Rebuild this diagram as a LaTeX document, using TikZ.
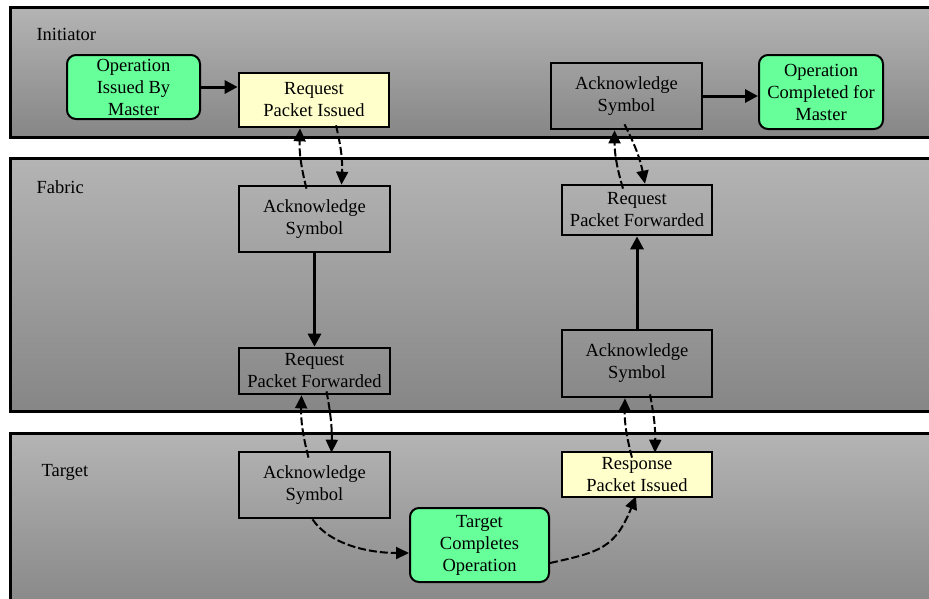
\documentclass[tikz,border=0pt]{standalone}
\usepackage{fontspec}
\setmainfont{Liberation Serif}
\usetikzlibrary{arrows.meta}
\definecolor{laneTop}{HTML}{B4B4B4}
\definecolor{laneBot}{HTML}{868686}
\definecolor{opgreen}{HTML}{66FF99}
\definecolor{pktyellow}{HTML}{FFFFCC}
\begin{document}
\begin{tikzpicture}[x=1pt,y=-1pt,
  lane/.style={draw=black,line width=3pt,top color=laneTop,bottom color=laneBot},
  lanelabel/.style={anchor=base west,font=\fontsize{18.5}{22}\selectfont,text=black},
  box/.style={draw=black,line width=2.7pt,align=center,inner sep=1pt,
    font=\fontsize{18.5}{22}\selectfont,text=black},
  plain/.style={box},
  packet/.style={box,fill=pktyellow},
  opbox/.style={box,fill=opgreen,rounded corners=9pt,line width=2pt},
  flow/.style={line width=3pt,-{Triangle[length=13pt,width=13pt]}},
  link/.style={line width=2pt,dashed,dash pattern=on 8pt off 3pt,-{Triangle[length=13pt,width=12pt]}}]
\useasboundingbox (0,0) rectangle (929,598);
\clip (0,0) rectangle (929,598);
\fill[white] (0,0) rectangle (929,598);

% swim lanes
\path[lane] (10,7) rectangle (945,137);
\path[lane] (10,158) rectangle (945,411);
\path[lane] (10,433) rectangle (945,615);
\node[lanelabel] (lInit) at (33,40) {Initiator};
\node[lanelabel] (lFab) at (33,193) {Fabric};
\node[lanelabel] (lTgt) at (38,476) {Target};

% initiator
\node[opbox,minimum width=133pt,minimum height=64pt] (opiss) at (133.5,87) {Operation\\Issued By\\Master};
\node[packet,minimum width=150pt,minimum height=54pt] (rpi) at (314,100) {Request\\Packet Issued};
\node[plain,minimum width=151pt,minimum height=66pt] (ackI) at (626.5,96) {Acknowledge\\Symbol};
\node[opbox,minimum width=124pt,minimum height=74pt] (opc) at (821,92) {Operation\\Completed for\\Master};

% fabric
\node[plain,minimum width=151pt,minimum height=66pt] (ackF1) at (314.5,219) {Acknowledge\\Symbol};
\node[plain,minimum width=151pt,minimum height=46pt] (rpfF1) at (314.5,371) {Request\\Packet Forwarded};
\node[plain,minimum width=150pt,minimum height=50pt] (rpfF2) at (637,210) {Request\\Packet Forwarded};
\node[plain,minimum width=150pt,minimum height=67pt] (ackF2) at (637,363.5) {Acknowledge\\Symbol};

% target
\node[plain,minimum width=151pt,minimum height=66pt] (ackT) at (314.5,485) {Acknowledge\\Symbol};
\node[packet,minimum width=150pt,minimum height=45pt] (rsp) at (637,474.5) {Response\\Packet Issued};
\node[opbox,minimum width=139pt,minimum height=74pt] (tco) at (479.5,545) {Target\\Completes\\Operation};

% solid flows
\draw[flow] (opiss.east) -- (rpi.west |- opiss.east);
\draw[flow] (ackI.east) -- (opc.west |- ackI.east);
\draw[flow] (ackF1.south) -- (rpfF1.north);
\draw[flow] (ackF2.north) -- (rpfF2.south);

% link-level handshakes between lanes
\draw[link] ([xshift=-8pt,yshift=-4pt]ackF1.north) to[bend left=8] ([xshift=-14pt]rpi.south);
\draw[link] ([xshift=22pt,yshift=3pt]rpi.south) to[bend left=8] ([xshift=27pt]ackF1.north);

\draw[link] ([xshift=-6pt,yshift=-7pt]ackT.north) to[bend left=8] ([xshift=-13pt]rpfF1.south);
\draw[link] ([xshift=12pt,yshift=4pt]rpfF1.south) to[bend left=6] ([xshift=17pt,yshift=-2pt]ackT.north);

\draw[link] ([xshift=-5pt,yshift=-7pt]rsp.north) to[bend left=8] ([xshift=-12pt]ackF2.south);
\draw[link] ([xshift=13pt,yshift=4pt]ackF2.south) to[bend left=6] ([xshift=18pt,yshift=-2pt]rsp.north);

\draw[link] ([xshift=-14pt,yshift=-5pt]rpfF2.north) to[bend left=8] ([xshift=-12pt]ackI.south);
\draw[link] ([xshift=-2pt,yshift=6pt]ackI.south) to[bend left=8] ([xshift=8pt]rpfF2.north);

% target-side processing
\draw[link] ([xshift=-2pt]ackT.south) .. controls (330,545) and (370,553) .. (tco.west |- 0,553);
\draw[link] (tco.east |- 0,563) .. controls (600,552) and (615,548) .. ([xshift=-1pt,yshift=2pt]rsp.south);
\end{tikzpicture}
\end{document}
